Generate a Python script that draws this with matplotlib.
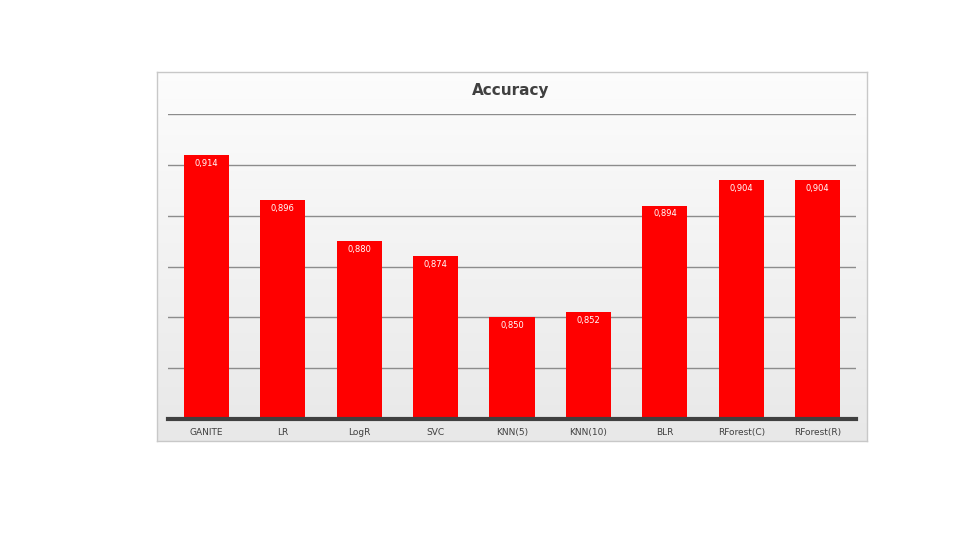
import numpy as np
import matplotlib.pyplot as plt

models = ['GANITE', 'LR', 'LogR', 'SVC', 'KNN(5)', 'KNN(10)', 'BLR', 'RForest(C)', 'RForest(R)']
accuracy = [0.914, 0.896, 0.880, 0.874, 0.850, 0.852, 0.894, 0.904, 0.904]

W, H = 960, 540
fig = plt.figure(figsize=(W / 100, H / 100), dpi=100)
fig.patch.set_facecolor('white')

# panel with light gradient background
px0, py0, px1, py1 = 157, 72, 867, 441
bg = fig.add_axes([px0 / W, 1 - py1 / H, (px1 - px0) / W, (py1 - py0) / H])
grad = np.linspace(0.99, 0.91, 256).reshape(-1, 1)
bg.imshow(np.dstack([grad, grad, grad]), aspect='auto', extent=[0, 1, 0, 1])
bg.set_xticks([])
bg.set_yticks([])
for s in bg.spines.values():
    s.set_color('#c8c8c8')
    s.set_linewidth(1)

ax0, ay0, ax1, ay1 = 168, 114, 856, 419
ax = fig.add_axes([ax0 / W, 1 - ay1 / H, (ax1 - ax0) / W, (ay1 - ay0) / H])
ax.patch.set_alpha(0)
x = np.arange(len(models))
ax.bar(x, accuracy, width=0.59, color='#ff0000', zorder=3)
ax.set_xlim(-0.5, len(models) - 0.5)
ax.set_ylim(0.81, 0.93)
ax.set_yticks(np.arange(0.83, 0.931, 0.02))
ax.yaxis.grid(True, color='#8c8c8c', linewidth=1.0, zorder=0)
ax.tick_params(axis='y', left=False, labelleft=False)
ax.tick_params(axis='x', bottom=False, pad=3)
ax.set_xticks(x)
ax.set_xticklabels(models, fontsize=6.5, color='#404040')
for side in ['top', 'right', 'left']:
    ax.spines[side].set_visible(False)
ax.spines['bottom'].set_color('#404040')
ax.spines['bottom'].set_linewidth(3)
ax.spines['bottom'].set_zorder(4)

for xi, v in zip(x, accuracy):
    ax.annotate(('%.3f' % v).replace('.', ','), (xi, v), xytext=(0, -6),
                textcoords='offset points', ha='center', va='center',
                fontsize=6, color='white', zorder=5)

fig.text(511 / W, 1 - 91 / H, 'Accuracy', ha='center', va='center',
         fontsize=11, fontweight='bold', color='#404040')

fig.savefig('out.png', dpi=100)
